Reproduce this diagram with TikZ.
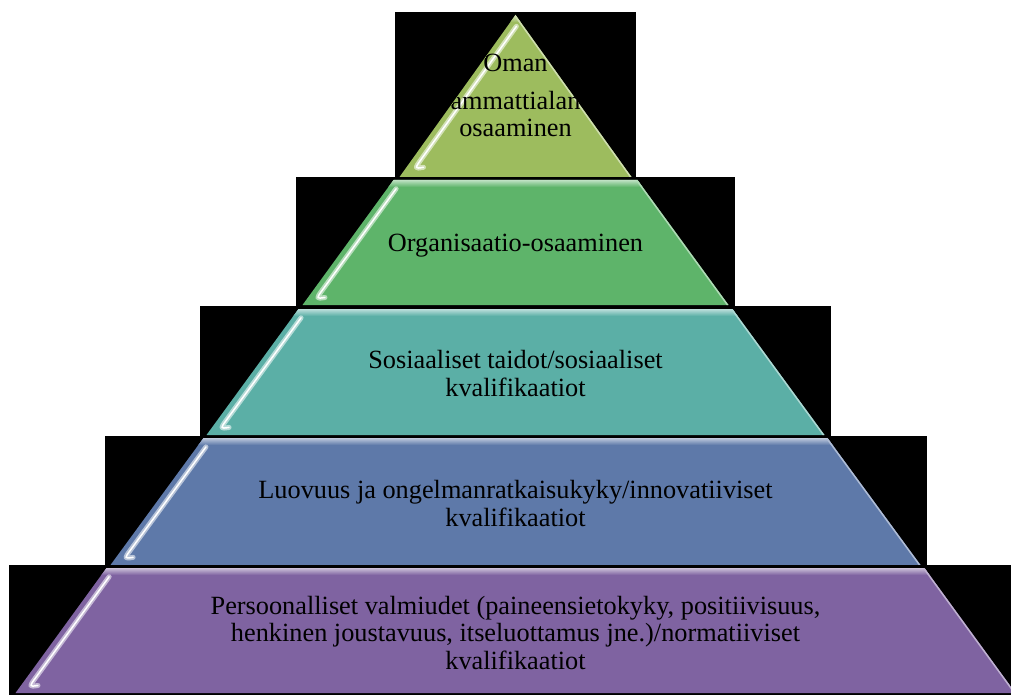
\documentclass[tikz,border=0pt]{standalone}
\usepackage{fontspec}
\setmainfont{Liberation Serif}
\usetikzlibrary{calc}

\definecolor{tierA}{HTML}{9DBC5E}
\definecolor{tierB}{HTML}{5EB46A}
\definecolor{tierC}{HTML}{5BAFA6}
\definecolor{tierD}{HTML}{5E79A9}
\definecolor{tierE}{HTML}{7F63A1}

\tikzset{
  layertext/.style={font=\fontsize{26.3}{27.2}\selectfont, align=center,
    inner sep=0pt, anchor=base, text=black},
  glossband/.style={line cap=round, line join=round, line width=5pt, draw=#1!45!white},
  glosscore/.style={line cap=round, line join=round, line width=1.5pt, draw=white},
  rimline/.style={line width=3pt, draw=#1!50!white},
}

% one tier of the pyramid:
% #1 name, #2 top y, #3 bottom y, #4 half width at top, #5 half width at bottom,
% #6 colour, #7 half width of the dark backing, #8 backing top, #9 backing bottom
\newcommand\pyrlayer[9]{%
  \fill[black] ({515.5-#7},#8) rectangle ({515.5+#7},#9);
  \coordinate (#1-tl) at ({515.5-#4},#2);
  \coordinate (#1-tr) at ({515.5+#4},#2);
  \coordinate (#1-br) at ({515.5+#5},#3);
  \coordinate (#1-bl) at ({515.5-#5},#3);
  \fill[#6] (#1-tl) -- (#1-tr) -- (#1-br) -- (#1-bl) -- cycle;
  \begin{scope}
    \clip (#1-tl) -- (#1-tr) -- (#1-br) -- (#1-bl) -- cycle;
    \shade[top color=#6!40!white, bottom color=#6]
      ({515.5-#5},#2) rectangle ({515.5+#5},{#2+7});
    \draw[rimline=#6] (#1-tr) -- (#1-br);
    \coordinate (#1-ga) at ($(#1-tl)!0.07!(#1-bl)+(9,0)$);
    \coordinate (#1-gb) at ($(#1-tl)!0.88!(#1-bl)+(9,0)$);
    \coordinate (#1-gk) at ($(#1-tl)!0.95!(#1-bl)+(9,0)$);
    \coordinate (#1-gc) at ($(#1-tl)!0.94!(#1-bl)+(17,0)$);
    \draw[glossband=#6] (#1-ga) -- (#1-gb) .. controls (#1-gk) .. (#1-gc);
    \draw[glosscore] (#1-ga) -- (#1-gb) .. controls (#1-gk) .. (#1-gc);
  \end{scope}
}

% centred label, clipped to its tier (placed by the baseline of its last line)
\newcommand\pyrtext[3]{%
  \begin{scope}
    \clip (#1-tl) -- (#1-tr) -- (#1-br) -- (#1-bl) -- cycle;
    \node[layertext] (#1-txt) at (515.5,#2) {#3};
  \end{scope}
}

\begin{document}
\begin{tikzpicture}[x=1pt,y=-1pt]
  \useasboundingbox (0,0) rectangle (1011,695);
  \clip (0,0) rectangle (1011,695);

  \pyrlayer{top}{15}{177}{0}{116}{tierA}{120.5}{12}{177}
  \pyrlayer{org}{180}{305}{122}{213}{tierB}{219.5}{177}{306}
  \pyrlayer{soc}{309}{435}{217}{309}{tierC}{315.5}{306}{436}
  \pyrlayer{cre}{438}{565}{312}{405}{tierD}{411}{436}{565}
  \pyrlayer{per}{568}{693}{409}{500}{tierE}{506.5}{565}{700}

  \pyrtext{top}{137}{Oman\\[10.8pt]ammattialan\\osaaminen}
  \pyrtext{org}{251}{Organisaatio-osaaminen}
  \pyrtext{soc}{396}{Sosiaaliset taidot/sosiaaliset\\kvalifikaatiot}
  \pyrtext{cre}{526}{Luovuus ja ongelmanratkaisukyky/innovatiiviset\\kvalifikaatiot}
  \pyrtext{per}{669}{Persoonalliset valmiudet (paineensietokyky, positiivisuus,\\henkinen joustavuus, itseluottamus jne.)/normatiiviset\\kvalifikaatiot}
\end{tikzpicture}
\end{document}
